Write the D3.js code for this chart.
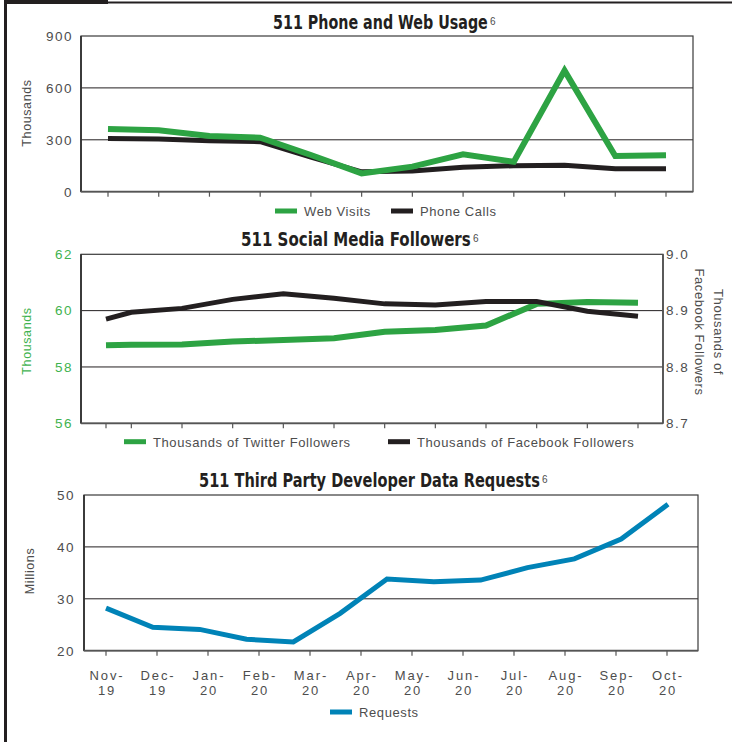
<!DOCTYPE html>
<html>
<head>
<meta charset="utf-8">
<script src="https://cdn.jsdelivr.net/npm/d3@7"></script>
<style>
  body { margin: 0; background: #fff; }
  svg { display: block; }
  .tick-lbl { font-family: "Liberation Sans", Arial, sans-serif; font-size: 13.5px; fill: #4d4d4d; letter-spacing: 1.5px; }
  .lgd { font-family: "Liberation Sans", Arial, sans-serif; font-size: 13px; fill: #4d4d4d; letter-spacing: 0.6px; }
  .ttl { font-family: "Liberation Sans Narrow", "DejaVu Sans Condensed", sans-serif; font-stretch: condensed; font-weight: bold; font-size: 19px; fill: #231f20; }
  .sup { font-family: "Liberation Sans", sans-serif; font-size: 10px; fill: #4d4d4d; }
</style>
</head>
<body>
<svg id="chart" width="732" height="742"></svg>
<script>
// month labels along the bottom
var months = ["Nov-19", "Dec-19", "Jan-20", "Feb-20", "Mar-20", "Apr-20",
              "May-20", "Jun-20", "Jul-20", "Aug-20", "Sep-20", "Oct-20"];

// 511 phone and web usage (thousands)
var webVisits  = [362, 355, 322, 312, 212, 106, 145, 216, 173, 700, 206, 210];
var phoneCalls = [308, 305, 295, 289, 200, 115, 119, 141, 150, 153, 133, 133];
var usageTicks = [0, 300, 600, 900];

// 511 social media followers (first point sits half a step early)
var socialPos = [-0.5, 0, 1, 2, 3, 4, 5, 6, 7, 8, 9, 10];
var twitter  = [58.77, 58.79, 58.80, 58.90, 58.96, 59.02, 59.25, 59.31, 59.47, 60.24, 60.31, 60.28];
var facebook = [8.885, 8.897, 8.904, 8.920, 8.930, 8.922, 8.912, 8.910, 8.916, 8.916, 8.899, 8.890];
var twitterTicks  = [56, 58, 60, 62];
var facebookTicks = [8.7, 8.8, 8.9, 9.0];

// 511 third party developer data requests (millions), 13 readings
var requests = [28.2, 24.5, 24.1, 22.2, 21.7, 27.2, 33.8, 33.3, 33.6, 36.0, 37.7, 41.5, 48.2];
var requestTicks = [20, 30, 40, 50];

var green = "#2da343", black = "#231f20", blue = "#0083b7";

var svg = d3.select("#chart");

// outer frame
svg.append("rect").attr("x", 4).attr("y", 0).attr("width", 104).attr("height", 4).attr("fill", black);
svg.append("line").attr("x1", 100).attr("x2", 732).attr("y1", 2.5).attr("y2", 2.5)
  .attr("stroke", black).attr("stroke-width", 2);
svg.append("line").attr("x1", 5.5).attr("x2", 5.5).attr("y1", 0).attr("y2", 742)
  .attr("stroke", black).attr("stroke-width", 3);

function box(g, x0, x1, y0, y1) {
  g.append("rect").attr("x", x0).attr("y", y0).attr("width", x1 - x0).attr("height", y1 - y0)
    .attr("fill", "none").attr("stroke", "#3a3a3a").attr("stroke-width", 1.2);
  g.append("line").attr("x1", x0).attr("x2", x0).attr("y1", y0).attr("y2", y1)
    .attr("stroke", "#333").attr("stroke-width", 1.8);
  g.append("line").attr("x1", x0).attr("x2", x1).attr("y1", y1).attr("y2", y1)
    .attr("stroke", "#555").attr("stroke-width", 1.8);
}

function grid(g, y, vals, x0, x1) {
  g.selectAll(null).data(vals).enter().append("line")
    .attr("x1", x0).attr("x2", x1)
    .attr("y1", function(d) { return y(d); }).attr("y2", function(d) { return y(d); })
    .attr("stroke", black).attr("stroke-width", 1);
}

function xticks(g, xs, yb) {
  g.selectAll(null).data(xs).enter().append("line")
    .attr("x1", function(d) { return d; }).attr("x2", function(d) { return d; })
    .attr("y1", yb).attr("y2", yb + 5)
    .attr("stroke", "#555").attr("stroke-width", 1.2);
}

// title squeezed horizontally to the width it has in the original, plus the footnote mark
function title(txt, x, y, w) {
  var t = svg.append("text").attr("class", "ttl").text(txt);
  var s = w / t.node().getComputedTextLength();
  t.attr("transform", "translate(" + x + "," + y + ") scale(" + s + ",1)");
  svg.append("text").attr("class", "sup").attr("x", x + w + 2).attr("y", y - 4).text("6");
}

function legend(items, y) {
  items.forEach(function(it) {
    svg.append("rect").attr("x", it.x).attr("y", y - 2.5).attr("width", 22).attr("height", 5).attr("fill", it.c);
    svg.append("text").attr("class", "lgd").attr("x", it.x + 29).attr("y", y + 5).text(it.t);
  });
}

function ylabel(txt, x, y, col, rot) {
  svg.append("text").attr("class", "lgd")
    .attr("transform", "translate(" + x + "," + y + ") rotate(" + rot + ")")
    .attr("text-anchor", "middle").style("fill", col).style("font-size", "12.5px")
    .text(txt);
}

function yaxis(g, axis, x, col) {
  g.append("g").attr("transform", "translate(" + x + ",0)")
    .call(axis.tickSize(0).tickPadding(0))
    .call(function(a) { a.select(".domain").remove(); })
    .selectAll("text").attr("class", "tick-lbl").attr("dy", "0.32em").style("fill", col);
}

// ---------- chart 1 ----------
var g1 = svg.append("g");
var x1 = d3.scalePoint().domain(months).range([108, 666]);
var y1 = d3.scaleLinear().domain([0, 900]).range([191.7, 36]);
grid(g1, y1, [300, 600], 81, 693);
box(g1, 81, 693, 36, 191.7);
xticks(g1, months.map(function(m) { return x1(m); }), 191.7);
yaxis(g1, d3.axisLeft(y1).tickValues(usageTicks).tickFormat(d3.format("d")), 73, "#4d4d4d");

var line1 = d3.line().x(function(d, i) { return x1(months[i]); }).y(function(d) { return y1(d); });
g1.append("path").datum(phoneCalls).attr("d", line1).attr("fill", "none")
  .attr("stroke", black).attr("stroke-width", 5);
g1.append("path").datum(webVisits).attr("d", line1).attr("fill", "none")
  .attr("stroke", green).attr("stroke-width", 6);
title("511 Phone and Web Usage", 273, 29, 215);
ylabel("Thousands", 31, 113, "#4d4d4d", -90);
legend([{x: 275, c: green, t: "Web Visits"}, {x: 391, c: black, t: "Phone Calls"}], 211);

// ---------- chart 2 ----------
var g2 = svg.append("g");
var x2 = d3.scaleLinear().domain([-0.5, 10]).range([106, 638]);
var y2 = d3.scaleLinear().domain([56, 62]).range([423.3, 254.3]);
var y2r = d3.scaleLinear().domain([8.7, 9.0]).range([423.3, 254.3]);
grid(g2, y2, [58, 60], 81, 663);
box(g2, 81, 663, 254.3, 423.3);
g2.append("line").attr("x1", 663).attr("x2", 663).attr("y1", 254.3).attr("y2", 423.3)
  .attr("stroke", "#555").attr("stroke-width", 1.8);
xticks(g2, socialPos.map(function(p) { return x2(p); }), 423.3);
yaxis(g2, d3.axisLeft(y2).tickValues(twitterTicks).tickFormat(d3.format("d")), 73, "#3fb34f");
yaxis(g2, d3.axisRight(y2r).tickValues(facebookTicks).tickFormat(d3.format(".1f")), 666, "#4d4d4d");

var lineTw = d3.line().x(function(d, i) { return x2(socialPos[i]); }).y(function(d) { return y2(d); });
var lineFb = d3.line().x(function(d, i) { return x2(socialPos[i]); }).y(function(d) { return y2r(d); });
g2.append("path").datum(twitter).attr("d", lineTw).attr("fill", "none")
  .attr("stroke", green).attr("stroke-width", 6);
g2.append("path").datum(facebook).attr("d", lineFb).attr("fill", "none")
  .attr("stroke", black).attr("stroke-width", 5);
title("511 Social Media Followers", 241, 246, 230);
ylabel("Thousands", 31, 341, "#3fb34f", -90);
svg.append("text").attr("class", "lgd").style("font-size", "13px")
  .attr("transform", "translate(714,332) rotate(90)").attr("text-anchor", "middle")
  .call(function(t) {
    t.append("tspan").attr("x", 0).attr("dy", 0).text("Thousands of");
    t.append("tspan").attr("x", 0).attr("dy", 19).text("Facebook Followers");
  });
legend([{x: 124, c: green, t: "Thousands of Twitter Followers"},
        {x: 388, c: black, t: "Thousands of Facebook Followers"}], 441.7);

// ---------- chart 3 ----------
var g3 = svg.append("g");
var x3 = d3.scalePoint().domain(months).range([106, 667]);
var x3d = d3.scaleLinear().domain([0, requests.length - 1]).range([106, 668]);
var y3 = d3.scaleLinear().domain([20, 50]).range([650.7, 495]);
grid(g3, y3, [30, 40], 84, 698);
box(g3, 84, 698, 495, 650.7);
xticks(g3, months.map(function(m) { return x3(m); }), 650.7);
yaxis(g3, d3.axisLeft(y3).tickValues(requestTicks).tickFormat(d3.format("d")), 75, "#4d4d4d");

g3.selectAll(null).data(months).enter().append("text")
  .attr("class", "tick-lbl").style("font-size", "13px").style("letter-spacing", "1.9px")
  .attr("text-anchor", "middle")
  .attr("transform", function(d) { return "translate(" + (x3(d) + 1) + ",680)"; })
  .each(function(d) {
    var p = d.split("-");
    d3.select(this).append("tspan").attr("x", 0).attr("dy", 0).text(p[0] + "-");
    d3.select(this).append("tspan").attr("x", 0).attr("dy", 15).text(p[1]);
  });

var line3 = d3.line().x(function(d, i) { return x3d(i); }).y(function(d) { return y3(d); });
g3.append("path").datum(requests).attr("d", line3).attr("fill", "none")
  .attr("stroke", blue).attr("stroke-width", 5);
title("511 Third Party Developer Data Requests", 199, 487, 341);
ylabel("Millions", 34, 571, "#4d4d4d", -90);
legend([{x: 330, c: blue, t: "Requests"}], 712);
</script>
</body>
</html>
